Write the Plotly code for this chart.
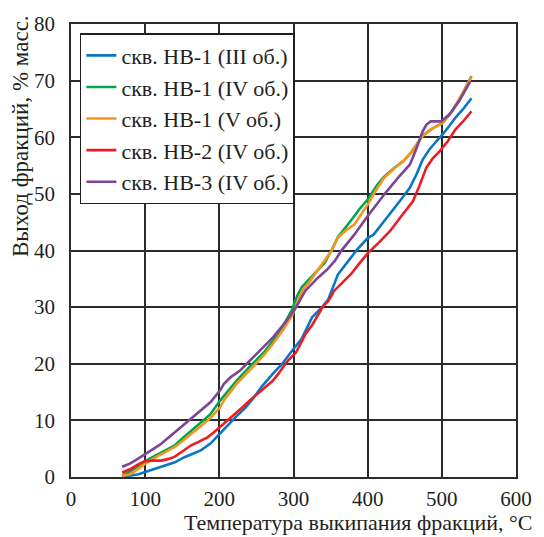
import plotly.graph_objects as go

# Кривые разгонки: температура выкипания (°C) и выход фракций (% масс.)
names = [
    "скв. НВ-1 (III об.)",
    "скв. НВ-1 (IV об.)",
    "скв. НВ-1 (V об.)",
    "скв. НВ-2 (IV об.)",
    "скв. НВ-3 (IV об.)",
]
colors = ["#0a77c4", "#00a651", "#f7941d", "#ed1c24", "#7d4595"]

t_hb1_iii = [69, 80, 91, 100, 120, 140, 153, 165, 175, 188, 201, 212, 223, 235, 245, 258, 272, 285,
             298, 311, 325, 338, 347, 360, 373, 386, 400, 408, 420, 430, 445, 457, 466, 474, 483,
             492, 501, 510, 518, 530, 540]
y_hb1_iii = [0.0, 0.2, 0.5, 0.9, 1.7, 2.6, 3.5, 4.1, 4.7, 5.9, 7.6, 9.2, 10.7, 12.2, 13.8, 16.1,
             18.2, 20.0, 22.3, 24.4, 28.2, 29.9, 31.4, 35.8, 38.0, 40.2, 42.2, 42.8, 44.8, 46.4,
             49.0, 51.1, 53.5, 56.0, 57.8, 59.2, 60.5, 62.0, 63.4, 65.2, 66.9]

t_hb1_iv = [69, 80, 90, 100, 120, 140, 150, 162, 175, 188, 201, 212, 223, 241, 260, 272, 285, 298,
            305, 311, 320, 329, 342, 351, 360, 377, 390, 400, 413, 422, 435, 448, 458, 466, 474,
            488, 501, 514, 527, 540]
y_hb1_iv = [0.3, 1.0, 1.9, 2.8, 4.2, 5.6, 6.8, 8.2, 9.7, 11.1, 13.5, 15.3, 17.0, 19.5, 22.0, 24.0,
            26.5, 29.5, 32.0, 33.5, 34.8, 36.0, 37.8, 40.0, 42.4, 45.2, 47.5, 49.0, 51.6, 53.0,
            54.5, 55.8, 57.2, 58.7, 60.3, 61.6, 62.5, 64.6, 67.5, 70.8]

t_hb1_v = [69, 80, 90, 100, 120, 140, 150, 162, 175, 188, 201, 206, 223, 245, 260, 272, 285, 298,
           306, 312, 320, 329, 340, 351, 360, 371, 382, 391, 400, 411, 422, 435, 448, 458, 466,
           474, 488, 501, 514, 527, 540]
y_hb1_v = [0.2, 0.5, 1.4, 2.35, 3.9, 5.3, 6.3, 7.6, 9.0, 10.4, 12.3, 13.5, 16.4, 19.4, 21.5, 23.5,
           25.8, 28.5, 31.2, 32.9, 34.2, 35.8, 37.8, 39.9, 42.3, 43.6, 44.6, 46.3, 48.1, 50.6,
           52.8, 54.4, 55.8, 57.2, 58.7, 60.2, 61.6, 62.5, 64.6, 67.5, 70.7]

t_hb2_iv = [69, 80, 90, 100, 110, 122, 132, 140, 150, 162, 172, 184, 192, 201, 212, 223, 232, 241,
            256, 272, 280, 289, 298, 303, 316, 325, 340, 347, 355, 365, 373, 378, 388, 400, 415,
            430, 445, 461, 470, 479, 488, 497, 508, 518, 530, 540]
y_hb2_iv = [0.8, 1.4, 2.2, 2.8, 2.9, 2.9, 3.2, 3.6, 4.5, 5.6, 6.2, 7.0, 7.8, 8.8, 10.1, 11.4, 12.4,
            13.5, 15.2, 17.0, 18.3, 20.0, 21.3, 21.9, 25.2, 26.8, 30.2, 31.1, 32.9, 34.2, 35.2,
            35.9, 37.6, 39.5, 41.4, 43.4, 46.0, 48.7, 51.5, 54.6, 56.3, 57.5, 59.3, 61.3, 63.0, 64.6]

t_hb3_iv = [69, 80, 90, 100, 110, 120, 130, 140, 150, 162, 175, 188, 201, 206, 215, 228, 240, 250,
            260, 272, 289, 303, 316, 325, 333, 345, 356, 364, 382, 400, 413, 426, 442, 457, 466,
            474, 479, 485, 499, 510, 523, 538]
y_hb3_iv = [1.8, 2.4, 3.2, 4.0, 4.8, 5.7, 6.8, 7.9, 9.0, 10.3, 11.8, 13.2, 15.3, 16.4, 17.6, 18.8,
            20.4, 21.7, 23.0, 24.6, 27.3, 29.9, 32.9, 34.2, 35.2, 36.6, 38.2, 39.9, 42.8, 46.1,
            48.4, 50.5, 53.0, 55.2, 58.1, 61.0, 62.2, 62.8, 62.8, 64.0, 66.3, 69.8]

series = [
    (t_hb1_iii, y_hb1_iii),
    (t_hb1_iv, y_hb1_iv),
    (t_hb1_v, y_hb1_v),
    (t_hb2_iv, y_hb2_iv),
    (t_hb3_iv, y_hb3_iv),
]

x_ticks = [0, 100, 200, 300, 400, 500, 600]
y_ticks = [0, 10, 20, 30, 40, 50, 60, 70, 80]

FONT = "Liberation Serif"
INK = "#231f20"

fig = go.Figure()
for i, ((tx, ty), name, col) in enumerate(zip(series, names, colors)):
    fig.add_trace(go.Scatter(
        x=tx, y=ty, name=name, mode="lines",
        line=dict(color=col, width=2.6),
        legendgroup=str(i),
    ))

axis_common = dict(
    showgrid=True, gridcolor="#2b2b2b", gridwidth=1.5,
    showline=True, linecolor="#2b2b2b", linewidth=1.5, mirror=True,
    zeroline=False, ticks="",
    tickfont=dict(family=FONT, size=21, color=INK),
)

fig.update_xaxes(range=[0, 600], tickvals=x_ticks, ticklabelstandoff=2, **axis_common)
fig.update_yaxes(range=[0, 80], tickvals=y_ticks, ticklabelstandoff=10, **axis_common)

fig.add_annotation(
    text="Температура выкипания фракций, °С",
    xref="paper", yref="paper", x=1.04, y=0, yshift=-60,
    xanchor="right", yanchor="bottom", showarrow=False,
    font=dict(family=FONT, size=22, color=INK),
)
fig.add_annotation(
    text="Выход фракций, % масс.",
    xref="paper", yref="paper", x=0, y=1, xshift=-51, yshift=11,
    xanchor="center", yanchor="top", textangle=-90, showarrow=False,
    font=dict(family=FONT, size=23, color=INK),
)

fig.update_layout(
    width=544, height=537,
    margin=dict(l=71, r=19, t=23, b=60),
    paper_bgcolor="white", plot_bgcolor="white",
    showlegend=True,
    legend=dict(
        x=0.02, y=0.98, xanchor="left", yanchor="top",
        bgcolor="white", bordercolor=INK, borderwidth=1.5,
        font=dict(family=FONT, size=22, color=INK),
        tracegroupgap=0, itemwidth=30,
    ),
)

fig.write_html("out.html")
